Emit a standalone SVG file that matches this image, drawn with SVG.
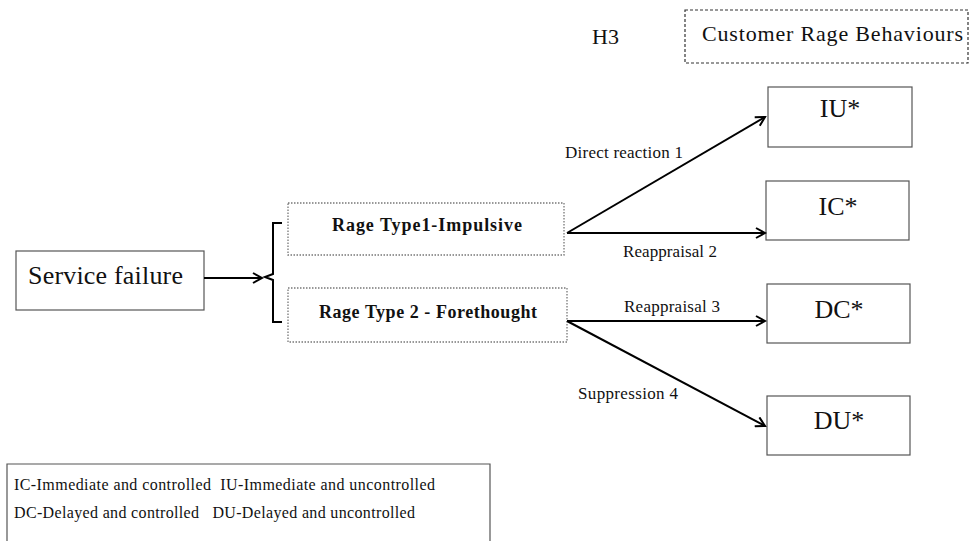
<svg xmlns="http://www.w3.org/2000/svg" width="971" height="541" viewBox="0 0 971 541">
<style>
text{font-family:"Liberation Serif","Times New Roman",serif;fill:#111;white-space:pre}
.box{fill:#fff;stroke:#555;stroke-width:1.2}
.dot{fill:#fff;stroke:#777;stroke-width:1.3;stroke-dasharray:1.5 1.5}
.dash{fill:#fff;stroke:#333;stroke-width:1.2;stroke-dasharray:3 2}
.con{fill:none;stroke:#000;stroke-width:2;marker-end:url(#ah)}
.lbl{font-size:17px}
.big{font-size:26px;text-anchor:middle}
.rt{font-size:18px;font-weight:bold}
</style>
<defs>
<marker id="ah" markerWidth="12" markerHeight="12" refX="10" refY="6" orient="auto" markerUnits="userSpaceOnUse">
<path d="M1,1 L10,6 L1,11" fill="none" stroke="#000" stroke-width="2"/>
</marker>
</defs>
<g id="h3"><text x="592" y="44" font-size="22">H3</text></g>
<g id="crb"><rect class="dash" x="685" y="10" width="283" height="53"/><text x="702" y="41" font-size="22" textLength="261" lengthAdjust="spacing">Customer Rage Behaviours</text></g>
<g id="sf"><rect class="box" x="16" y="251" width="188" height="59"/><text x="28" y="284" font-size="26" textLength="155" lengthAdjust="spacing">Service failure</text></g>
<g id="brace"><path d="M282,223 H273 V274 L265,277 L273,280 V322 H282" fill="none" stroke="#000" stroke-width="2"/></g>
<g id="rt1"><rect class="dot" x="288" y="203" width="276" height="52"/><text class="rt" x="332" y="231" textLength="190" lengthAdjust="spacing">Rage Type1-Impulsive</text></g>
<g id="rt2"><rect class="dot" x="288" y="288" width="279" height="54"/><text class="rt" x="319" y="318" textLength="218" lengthAdjust="spacing">Rage Type 2 - Forethought</text></g>
<g id="iu"><rect class="box" x="768" y="87" width="144" height="60"/><text class="big" x="840" y="117">IU*</text></g>
<g id="ic"><rect class="box" x="766" y="181" width="143" height="59"/><text class="big" x="838" y="215">IC*</text></g>
<g id="dc"><rect class="box" x="767" y="284" width="143" height="59"/><text class="big" x="839" y="318">DC*</text></g>
<g id="du"><rect class="box" x="767" y="396" width="143" height="59"/><text class="big" x="839" y="429">DU*</text></g>
<g id="connectors">
<path class="con" d="M204,278 H262"/>
<path class="con" d="M567,233 L765,117"/>
<path class="con" d="M567,233 H765"/>
<path class="con" d="M567,321 H765"/>
<path class="con" d="M567,321 L765,426"/>
<text class="lbl" x="565" y="158" textLength="118" lengthAdjust="spacing">Direct reaction 1</text>
<text class="lbl" x="623" y="257" textLength="94" lengthAdjust="spacing">Reappraisal 2</text>
<text class="lbl" x="624" y="312" textLength="96" lengthAdjust="spacing">Reappraisal 3</text>
<text class="lbl" x="578" y="399" textLength="100" lengthAdjust="spacing">Suppression 4</text>
</g>
<g id="legend"><path d="M7,541 V464 H490 V541" fill="#fff" stroke="#555" stroke-width="1.2"/>
<text x="14" y="490" font-size="16" textLength="421" lengthAdjust="spacing">IC-Immediate and controlled  IU-Immediate and uncontrolled</text>
<text x="14" y="518" font-size="16" textLength="401" lengthAdjust="spacing">DC-Delayed and controlled   DU-Delayed and uncontrolled</text></g>
</svg>
